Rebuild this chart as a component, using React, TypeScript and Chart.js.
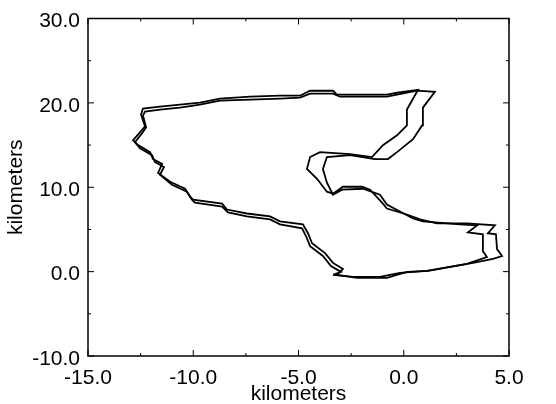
import { useEffect, useRef } from "react";
import { Chart, registerables } from "chart.js";

Chart.register(...registerables);

// axis ticks (km)
const xTicks = [-15, -10, -5, 0, 5];
const yTicks = [-10, 0, 10, 20, 30];

// first pass of the track (km east / km north)
const trackAX = [
  -3.17, -2.22, -0.8, 0.15, 1.15, 3.29, 4.24, 4.67, 4.43, 4.38, 4.0, 4.33, 3.0, 1.58, 0.77, 0.15,
  -0.8, -0.99, -1.6, -1.98, -2.89, -3.36, -3.65, -4.12, -4.6, -4.45, -3.98, -2.55, -1.51, -0.99,
  -0.32, 0.15, 0.15, 0.68, -0.32, -0.8, -3.17, -3.36, -4.45, -4.93, -5.88, -7.3, -8.73, -9.68,
  -10.63, -11.58, -12.39, -12.48, -12.29, -12.53, -12.86, -12.62, -12.05, -11.91, -11.48, -11.67,
  -11.1, -10.39, -10.15, -10.01, -8.63, -8.4, -7.45, -6.35, -5.88, -4.79, -4.55, -4.36, -3.74,
  -3.36, -2.89, -3.17,
];
const trackAY = [
  -0.38, -0.73, -0.73, -0.03, 0.09, 1.03, 1.5, 1.85, 2.67, 4.43, 4.55, 5.48, 5.72, 5.72, 6.19, 6.77,
  7.48, 8.06, 9.71, 10.06, 10.06, 9.24, 9.47, 11.0, 12.17, 13.58, 14.16, 13.93, 13.58, 14.99,
  16.16, 17.33, 19.21, 21.55, 21.2, 20.97, 20.97, 21.44, 21.44, 20.85, 20.85, 20.73, 20.5, 20.03,
  19.79, 19.56, 19.33, 18.62, 17.21, 16.51, 15.57, 14.99, 14.16, 13.34, 12.76, 11.7,
  10.65, 9.82, 8.89, 8.53, 8.06, 7.36, 6.89, 6.54, 5.95, 5.6, 4.55, 3.37, 2.2,
  1.03, 0.32, -0.38,
];

// second pass of the track
const trackBX = [
  -3.36, -2.41, -1.13, -0.18, 1.1, 3.0, 3.95, 3.76, 3.76, 3.05, 3.48, 2.67, 0.91, 0.44, -0.18,
  -0.8, -1.13, -1.94, -2.93, -3.36, -3.65, -3.84, -3.65, -2.55, -1.37, -0.75, -0.32, 0.44, 0.87,
  0.91, 1.48, 0.63, -0.32, -0.8, -3.03, -3.36, -4.45, -4.93, -5.88, -7.3, -8.73, -9.68, -10.63,
  -11.58, -12.29, -12.39, -12.24, -12.43, -12.77, -12.53, -11.96, -11.82, -11.39, -11.58, -11.01,
  -10.3, -10.06, -9.92, -8.63, -8.35, -7.45, -6.35, -5.88, -4.83, -4.64, -4.45, -3.84, -3.46,
  -2.98, -3.36,
];
const trackBY = [
  -0.38, -0.62, -0.62, -0.15, 0.09, 0.91, 1.73, 2.43, 4.43, 4.66, 5.48, 5.6, 5.95, 6.3, 7.13,
  7.95, 9.12, 9.82, 9.71, 9.12, 10.53, 12.17, 13.58, 13.81, 13.34, 13.34, 14.16, 15.69, 17.33,
  19.44, 21.32, 21.44, 20.97, 20.73, 20.73, 21.09, 21.09, 20.62, 20.5, 20.38, 20.26, 19.79, 19.44,
  19.21, 18.97, 18.5, 17.1, 16.39, 15.34, 14.63, 13.81, 12.99, 12.4, 11.47, 10.29,
  9.47, 8.53, 8.18, 7.71, 7.01, 6.54, 6.19, 5.6, 5.13, 4.19, 3.02, 1.85, 0.67,
  -0.03, -0.38,
];

const FONT = "'Liberation Sans', Arial, Helvetica, sans-serif";

// frame around the plot with small inward ticks on all four sides
const framePlugin = {
  id: "frame",
  afterDraw(chart: any) {
    const { ctx, chartArea, scales } = chart;
    const { left, right, top, bottom } = chartArea;
    ctx.save();
    ctx.strokeStyle = "#000";
    ctx.lineWidth = 1.5;
    ctx.strokeRect(left, top, right - left, bottom - top);
    ctx.lineWidth = 1;
    ctx.beginPath();
    xTicks.forEach((v, i) => {
      const px = scales.x.getPixelForValue(v);
      ctx.moveTo(px, bottom);
      ctx.lineTo(px, bottom - 6);
      ctx.moveTo(px, top);
      ctx.lineTo(px, top + 6);
      if (i < xTicks.length - 1) {
        const mx = scales.x.getPixelForValue((v + xTicks[i + 1]) / 2);
        ctx.moveTo(mx, bottom);
        ctx.lineTo(mx, bottom - 3);
        ctx.moveTo(mx, top);
        ctx.lineTo(mx, top + 3);
      }
    });
    yTicks.forEach((v, i) => {
      const py = scales.y.getPixelForValue(v);
      ctx.moveTo(left, py);
      ctx.lineTo(left + 6, py);
      ctx.moveTo(right, py);
      ctx.lineTo(right - 6, py);
      if (i < yTicks.length - 1) {
        const my = scales.y.getPixelForValue((v + yTicks[i + 1]) / 2);
        ctx.moveTo(left, my);
        ctx.lineTo(left + 3, my);
        ctx.moveTo(right, my);
        ctx.lineTo(right - 3, my);
      }
    });
    ctx.stroke();
    ctx.restore();
  },
};

export default function App() {
  const chartRef = useRef<HTMLCanvasElement>(null);
  const chartInstance = useRef<Chart | null>(null);

  useEffect(() => {
    if (!chartRef.current) return;
    if (chartInstance.current) chartInstance.current.destroy();

    const ctx = chartRef.current.getContext("2d");
    if (!ctx) return;

    const lineStyle = {
      showLine: true,
      borderColor: "#000",
      backgroundColor: "#000",
      borderWidth: 1.8,
      pointRadius: 0,
      tension: 0,
    };

    chartInstance.current = new Chart(ctx, {
      type: "scatter",
      data: {
        datasets: [
          { ...lineStyle, data: trackAX.map((x, i) => ({ x, y: trackAY[i] })) },
          { ...lineStyle, data: trackBX.map((x, i) => ({ x, y: trackBY[i] })) },
        ],
      },
      options: {
        responsive: false,
        animation: false,
        layout: { padding: { top: 15, right: 47, bottom: 0, left: 0 } },
        plugins: { legend: { display: false }, tooltip: { enabled: false } },
        scales: {
          x: {
            type: "linear",
            min: xTicks[0],
            max: xTicks[xTicks.length - 1],
            afterBuildTicks: (scale: any) => {
              scale.ticks = xTicks.map((value) => ({ value }));
            },
            afterFit: (scale: any) => {
              scale.height = 48;
            },
            grid: { display: false, drawTicks: false },
            border: { display: false },
            ticks: {
              padding: 12,
              color: "#000",
              maxRotation: 0,
              font: { family: FONT, size: 21, lineHeight: 1 },
              callback: (v: any) => Number(v).toFixed(1),
            },
            title: {
              display: true,
              text: "kilometers",
              color: "#000",
              padding: { top: 0, bottom: -1 },
              font: { family: FONT, size: 21, lineHeight: 1 },
            },
          },
          y: {
            type: "linear",
            min: yTicks[0],
            max: yTicks[yTicks.length - 1],
            afterBuildTicks: (scale: any) => {
              scale.ticks = yTicks.map((value) => ({ value }));
            },
            afterFit: (scale: any) => {
              scale.width = 88;
            },
            grid: { display: false, drawTicks: false },
            border: { display: false },
            ticks: {
              padding: 8,
              labelOffset: 3,
              color: "#000",
              font: { family: FONT, size: 21, lineHeight: 1 },
              callback: (v: any) => Number(v).toFixed(1),
            },
            title: {
              display: true,
              text: "kilometers",
              color: "#000",
              padding: { top: 6, bottom: 0 },
              font: { family: FONT, size: 21, lineHeight: 1 },
            },
          },
        },
      },
      plugins: [framePlugin],
    });

    return () => {
      if (chartInstance.current) {
        chartInstance.current.destroy();
        chartInstance.current = null;
      }
    };
  }, []);

  return (
    <div style={{ position: "fixed", left: 0, top: 0, width: 556, height: 404, background: "#fff" }}>
      <canvas ref={chartRef} width={556} height={404} />
    </div>
  );
}
